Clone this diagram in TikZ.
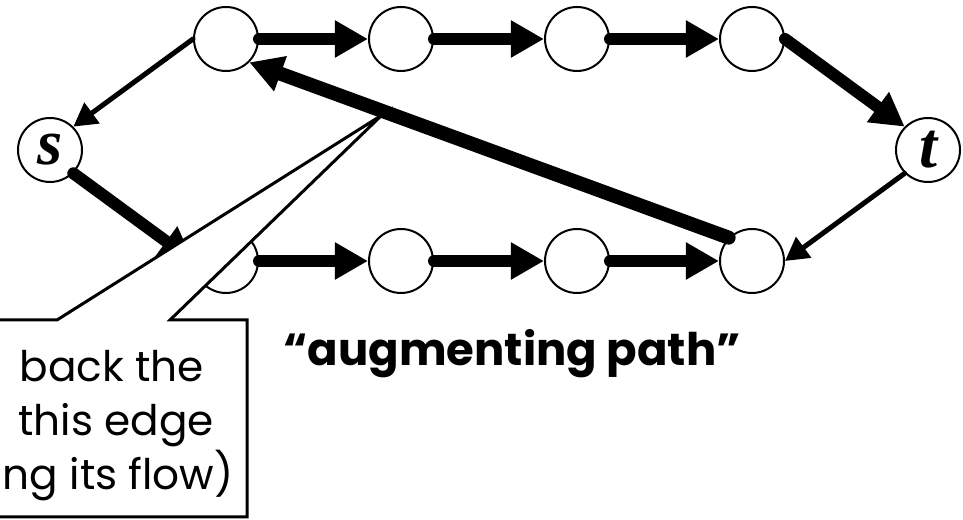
\documentclass[tikz,border=0pt]{standalone}
\usepackage{fontspec}
\setmainfont{Poppins}
\newfontfamily\letterfont{Liberation Serif}
\usepackage{tikz}
\usetikzlibrary{arrows.meta}

\begin{document}
\begin{tikzpicture}[
    vertex/.style={shape=circle, draw, line width=0.05cm, minimum size=1.6cm, inner sep=0pt},
    flow/.style={line width=0.3cm, line cap=round, -{Triangle[length=0.83cm, width=0.88cm]}},
    thinflow/.style={line width=0.125cm, line cap=round, -{Triangle[length=0.58cm, width=0.62cm]}},
    callout/.style={draw, fill=white, line width=0.075cm, line join=miter},
    calltext/.style={anchor=base east, inner sep=0pt, font=\fontsize{30}{36}\selectfont},
    letter/.style={font=\letterfont\bfseries\itshape\fontsize{46}{46}\selectfont}
]
    \useasboundingbox (0,0) rectangle (24.075,13);
    % Paths, nodes and wires:
    \node[vertex](s) at (1.25, 9.25){};
    \node[letter] at (s.center){s};
    \node[vertex](t) at (23.2, 9.25){};
    \node[letter] at (t.center){t};
    \node[vertex](U1) at (5.65, 12.025){};
    \node[vertex](U2) at (10.025, 12.025){};
    \node[vertex](U3) at (14.425, 12.025){};
    \node[vertex](U4) at (18.8, 12.025){};
    \node[vertex](L1) at (5.65, 6.475){};
    \node[vertex](L2) at (10.025, 6.475){};
    \node[vertex](L3) at (14.425, 6.475){};
    \node[vertex](L4) at (18.8, 6.475){};
    \draw[thinflow] (U1.west) -- (s.north east);
    \draw[flow] (s.south east) -- (L1.west);
    \draw[flow] (U1.east) -- (U2.west);
    \draw[flow] (U2.east) -- (U3.west);
    \draw[flow] (U3.east) -- (U4.west);
    \draw[flow] (U4.east) -- (t.north west);
    \draw[thinflow] (t.south west) -- (L4.east);
    \draw[flow] (L1.east) -- (L2.west);
    \draw[flow] (L2.east) -- (L3.west);
    \draw[flow] (L3.east) -- (L4.west);
    \draw[flow, line width=0.35cm] (L4.north west) -- (U1.south east);
    % callout
    \coordinate (tip) at (9.55, 10.125);
    \draw[callout] (-1.25, 5) -- (1.425, 5) -- (tip) -- (4.25, 5) -- (6.175, 5) -- (6.175, 0.075) -- (-1.25, 0.075) -- cycle;
    \node[calltext](C1) at (5.1, 3.45){back the};
    \node[calltext](C2) at (5.35, 2.1){this edge};
    \node[calltext](C3) at (5.85, 0.75){ng its flow)};
    \node[font=\bfseries\fontsize{32}{38}\selectfont](aug) at (12.8, 4.15){“augmenting path”};
\end{tikzpicture}
\end{document}
